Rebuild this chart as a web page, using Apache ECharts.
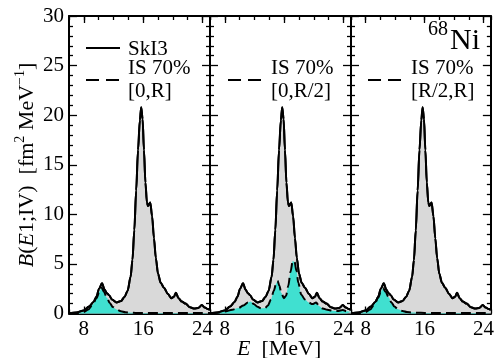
<!DOCTYPE html>
<html>
<head>
<meta charset="utf-8">
<script src="https://cdn.jsdelivr.net/npm/echarts@6/dist/echarts.min.js"></script>
<style>
html, body { margin: 0; padding: 0; background: #fff; }
#chart { width: 497px; height: 358px; }
</style>
</head>
<body>
<div id="chart"></div>
<script>
// SkI3 total strength (same in all panels)
const solidE = [6, 7, 8, 8.7, 9.3, 9.7, 10.05, 10.45, 10.8, 11.1, 11.4, 11.8, 12.4, 13.0, 13.5,
  13.9, 14.3, 14.55, 14.8, 15.05, 15.3, 15.55, 15.73, 15.92, 16.1, 16.3, 16.5, 16.65, 16.95, 17.2,
  17.45, 17.7, 18.0, 18.35, 18.8, 19.3, 19.8, 20.15, 20.4, 20.75, 21.2, 21.7, 22.3, 22.9, 23.4,
  23.9, 24.3, 24.7, 25];
const solidB = [0.03, 0.1, 0.3, 0.7, 1.15, 1.7, 2.5, 3.05, 2.4, 2.05, 1.85, 1.4, 1.12, 1.25, 1.7,
  2.3, 3.7, 5.4, 8.4, 12.4, 16.5, 19.5, 20.8, 19.6, 16.5, 13.2, 11.2, 10.85, 11.2, 9.8,
  7.6, 5.6, 4.0, 3.1, 2.6, 2.0, 1.55, 1.7, 2.1, 1.55, 1.2, 1.0, 0.62, 0.5, 0.55,
  0.85, 0.6, 0.45, 0.35];

// IS 70% [0,R]
const dashE1 = [6, 7, 8, 8.6, 9.2, 9.7, 10.1, 10.4, 10.7, 11.1, 11.5, 11.9, 12.4, 13.0, 13.6,
  14.3, 15, 16, 17, 18, 19, 20, 21, 22, 23, 24, 25];
const dashB1 = [0.01, 0.05, 0.15, 0.4, 0.9, 1.55, 2.2, 2.6, 2.2, 1.6, 1.05, 0.65, 0.4, 0.22, 0.12,
  0.08, 0.06, 0.05, 0.05, 0.05, 0.05, 0.05, 0.05, 0.05, 0.05, 0.05, 0.05];

// IS 70% [0,R/2]
const dashE2 = [6, 7, 8, 9, 9.8, 10.5, 11.1, 11.5, 11.9, 12.4, 12.9, 13.4, 13.8, 14.2, 14.6,
  14.9, 15.1, 15.35, 15.6, 15.95, 16.25, 16.55, 16.85, 17.15, 17.4, 17.65, 17.9, 18.3, 18.8, 19.3,
  19.8, 20.3, 20.7, 21.2, 21.8, 22.5, 23.2, 23.9, 24.4, 25];
const dashB2 = [0.02, 0.08, 0.2, 0.38, 0.55, 0.8, 1.1, 1.2, 0.95, 0.68, 0.52, 0.55, 0.8, 1.4, 2.3,
  3.0, 3.3, 2.8, 2.1, 1.55, 1.8, 2.8, 4.2, 5.3, 5.2, 4.3, 3.1, 1.9, 1.4, 1.1,
  0.95, 1.1, 0.75, 0.5, 0.38, 0.28, 0.25, 0.35, 0.22, 0.15];

// IS 70% [R/2,R]
const dashE3 = [6, 7, 8, 8.6, 9.2, 9.7, 10.05, 10.35, 10.7, 11.1, 11.5, 11.9, 12.4, 13.0, 13.6,
  14.3, 15, 16, 17, 18, 19, 20, 21, 22, 23, 24, 25];
const dashB3 = [0.01, 0.05, 0.15, 0.4, 0.95, 1.6, 2.2, 2.55, 2.2, 1.65, 1.1, 0.7, 0.42, 0.25, 0.14,
  0.1, 0.08, 0.06, 0.06, 0.06, 0.05, 0.05, 0.05, 0.05, 0.05, 0.05, 0.05];

const xTicks = [8, 16, 24];
const legendLines = [["IS 70%", "[0,R]"], ["IS 70%", "[0,R/2]"], ["IS 70%", "[R/2,R]"]];

const SERIF = "'Liberation Serif', 'DejaVu Serif', serif";
const pairs = (xs, ys) => xs.map((x, i) => [x, ys[i]]);
const dashed = [pairs(dashE1, dashB1), pairs(dashE2, dashB2), pairs(dashE3, dashB3)];

const chart = echarts.init(document.getElementById("chart"));

const grids = [], xAxes = [], yAxes = [], series = [], graphics = [];
const black = { color: "#000", width: 1.3 };

for (let i = 0; i < 3; i++) {
  grids.push({ left: 69 + i * 141, width: 141, top: 16, height: 297.5 });

  const xBase = { type: "value", gridIndex: i, min: 6, max: 25, splitLine: { show: false } };
  // bottom major ticks + labels
  xAxes.push(Object.assign({}, xBase, {
    position: "bottom",
    axisLine: { show: true, lineStyle: { color: "#000", width: 2 } },
    axisTick: { inside: true, length: 7, customValues: xTicks, lineStyle: black },
    axisLabel: { customValues: xTicks, color: "#000", fontFamily: SERIF, fontSize: 21, margin: 5 }
  }));
  // bottom minor ticks
  xAxes.push(Object.assign({}, xBase, {
    position: "bottom", interval: 2,
    axisLine: { show: false },
    axisTick: { inside: true, length: 4, lineStyle: black },
    axisLabel: { show: false }
  }));
  // top frame
  xAxes.push(Object.assign({}, xBase, {
    position: "top",
    axisLine: { show: true, lineStyle: { color: "#000", width: 2 } },
    axisTick: { inside: true, length: 7, customValues: xTicks, lineStyle: black },
    axisLabel: { show: false }
  }));
  xAxes.push(Object.assign({}, xBase, {
    position: "top", interval: 2,
    axisLine: { show: false },
    axisTick: { inside: true, length: 4, lineStyle: black },
    axisLabel: { show: false }
  }));

  const yBase = {
    type: "value", gridIndex: i, min: 0, max: 30, interval: 5,
    splitLine: { show: false },
    axisLine: { show: true, lineStyle: { color: "#000", width: 2 } },
    axisTick: { inside: true, length: 8, lineStyle: black },
    minorTick: { show: true, splitNumber: 5, length: 4, lineStyle: black }
  };
  yAxes.push(Object.assign({}, yBase, {
    position: "left",
    axisLabel: { show: i === 0, color: "#000", fontFamily: SERIF, fontSize: 21, margin: 5 }
  }));
  yAxes.push(Object.assign({}, yBase, { position: "right", axisLabel: { show: false } }));

  const common = { type: "line", xAxisIndex: 4 * i, yAxisIndex: 2 * i, symbol: "none",
    smooth: 0.3, smoothMonotone: "x", animation: false, silent: true };
  series.push(Object.assign({}, common, {
    data: pairs(solidE, solidB), z: 2,
    lineStyle: { color: "#000", width: 2 },
    areaStyle: { color: "#d9d9d9", opacity: 1 }
  }));
  series.push(Object.assign({}, common, {
    data: dashed[i], z: 3,
    lineStyle: { color: "#000", width: 2, type: [10, 5] },
    areaStyle: { color: "#40e0d0", opacity: 1 }
  }));
  series.push(Object.assign({}, common, {
    data: pairs(solidE, solidB), z: 4,
    lineStyle: { color: "#000", width: 2 }
  }));
}

const txt = (x, y, text, extra) => ({
  type: "text", x: x, y: y, z: 10,
  style: Object.assign({ text: text, fill: "#000", fontFamily: SERIF, fontSize: 21,
    align: "left", verticalAlign: "middle" }, extra || {})
});
const seg = (x1, x2, y, dash) => ({
  type: "line", z: 10, shape: { x1: x1, y1: y, x2: x2, y2: y },
  style: { stroke: "#000", lineWidth: 2, lineDash: dash || null }
});

// legends
graphics.push(seg(86, 120, 48));
graphics.push(txt(128, 49, "SkI3"));
const legX = [[86, 128], [228, 271], [368, 411]];
legendLines.forEach((lines, i) => {
  graphics.push(seg(legX[i][0], legX[i][0] + 34, 80, [13, 7]));
  graphics.push(txt(legX[i][1], 68.5, lines[0]));
  graphics.push(txt(legX[i][1], 91, lines[1]));
});

// nucleus label
graphics.push(txt(448, 30, "68", { align: "right", fontSize: 20 }));
graphics.push(txt(450, 41, "Ni", { fontSize: 30 }));

// axis titles
const rich = {
  n: { fontFamily: SERIF, fontSize: 22, lineHeight: 28 },
  i: { fontFamily: SERIF, fontSize: 22, lineHeight: 28, fontStyle: "italic" },
  s: { fontFamily: SERIF, fontSize: 14, lineHeight: 14, verticalAlign: "top" }
};
graphics.push({
  type: "text", x: 27, y: 165, rotation: Math.PI / 2, z: 10,
  style: { text: "{i|B}{n|(}{i|E}{n|1;IV)  [fm}{s|2}{n| MeV}{s|\u22121}{n|]}",
    align: "center", verticalAlign: "middle", fill: "#000", rich: rich }
});
graphics.push({
  type: "text", x: 237, y: 349, z: 10,
  style: { text: "{i|E}{n|  [MeV]}", align: "left", verticalAlign: "middle", fill: "#000", rich: rich }
});

chart.setOption({
  animation: false,
  backgroundColor: "#fff",
  grid: grids,
  xAxis: xAxes,
  yAxis: yAxes,
  series: series,
  graphic: graphics
});
</script>
</body>
</html>
